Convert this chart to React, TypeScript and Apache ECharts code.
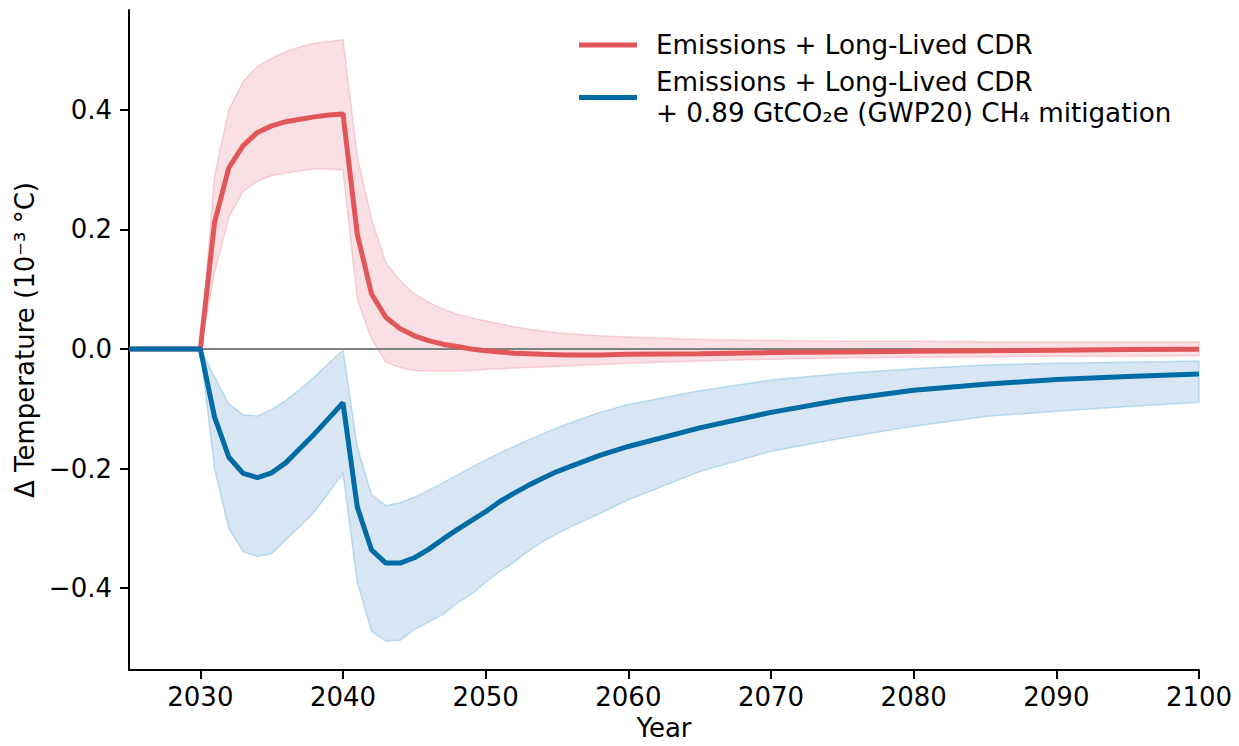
import React, { useEffect, useRef } from "react";
import * as echarts from "echarts";

const years = [2025, 2030, 2031, 2032, 2033, 2034, 2035, 2036, 2037, 2038, 2039, 2040, 2041, 2042, 2043, 2044, 2045, 2046, 2047, 2048, 2049, 2050, 2051, 2052, 2053, 2054, 2055, 2056, 2058, 2060, 2065, 2070, 2075, 2080, 2085, 2090, 2095, 2100];

const redMean = [0, 0, 0.212, 0.303, 0.34, 0.362, 0.373, 0.38, 0.384, 0.388, 0.391, 0.393, 0.192, 0.092, 0.053, 0.034, 0.022, 0.014, 0.008, 0.004, 0.0, -0.003, -0.005, -0.007, -0.008, -0.009, -0.0095, -0.01, -0.01, -0.009, -0.008, -0.006, -0.005, -0.004, -0.003, -0.002, -0.001, -0.0005];
const redLow = [0, 0, 0.128, 0.22, 0.264, 0.28, 0.29, 0.294, 0.298, 0.301, 0.301, 0.299, 0.083, 0.017, -0.022, -0.031, -0.036, -0.037, -0.037, -0.037, -0.036, -0.034, -0.033, -0.032, -0.031, -0.03, -0.029, -0.028, -0.026, -0.024, -0.02, -0.017, -0.015, -0.014, -0.013, -0.012, -0.012, -0.011];
const redHigh = [0, 0, 0.29, 0.4, 0.447, 0.472, 0.486, 0.497, 0.505, 0.511, 0.514, 0.517, 0.322, 0.217, 0.144, 0.114, 0.092, 0.078, 0.067, 0.058, 0.052, 0.047, 0.042, 0.037, 0.033, 0.03, 0.027, 0.025, 0.022, 0.02, 0.016, 0.014, 0.013, 0.013, 0.012, 0.012, 0.012, 0.012];

const blueMean = [0, 0, -0.114, -0.181, -0.208, -0.215, -0.207, -0.19, -0.166, -0.142, -0.116, -0.09, -0.264, -0.336, -0.358, -0.358, -0.349, -0.335, -0.318, -0.302, -0.287, -0.272, -0.255, -0.241, -0.228, -0.216, -0.205, -0.196, -0.178, -0.163, -0.132, -0.106, -0.085, -0.069, -0.059, -0.051, -0.046, -0.042];
const blueHigh = [0, 0, -0.047, -0.092, -0.11, -0.112, -0.101, -0.086, -0.067, -0.047, -0.024, -0.002, -0.164, -0.244, -0.262, -0.257, -0.248, -0.236, -0.224, -0.211, -0.198, -0.186, -0.174, -0.163, -0.152, -0.142, -0.132, -0.123, -0.106, -0.093, -0.07, -0.052, -0.041, -0.033, -0.027, -0.024, -0.022, -0.02];
const blueLow = [0, 0, -0.2, -0.3, -0.339, -0.347, -0.342, -0.319, -0.296, -0.272, -0.24, -0.208, -0.389, -0.472, -0.488, -0.487, -0.469, -0.456, -0.444, -0.425, -0.41, -0.39, -0.372, -0.356, -0.338, -0.322, -0.309, -0.297, -0.275, -0.252, -0.205, -0.171, -0.149, -0.129, -0.113, -0.104, -0.096, -0.089];

const xTicks = [2030, 2040, 2050, 2060, 2070, 2080, 2090, 2100];
const yTicks = [-0.4, -0.2, 0, 0.2, 0.4];

const redName = "Emissions + Long-Lived CDR";
const blueName = "Emissions + Long-Lived CDR\n+ 0.89 GtCO\u2082e (GWP20) CH\u2084 mitigation";
const yTitle = "\u0394 Temperature (10\u207B\u00B3 \u00B0C)";
const xTitle = "Year";

const FONT = "DejaVu Sans";

function band(high: number[], low: number[], fill: string, stroke: string) {
  return {
    type: "custom",
    silent: true,
    data: [[years[0], 0]],
    encode: { x: 0, y: 1 },
    renderItem: (params: any, api: any) => {
      if (params.dataIndex !== 0) return null;
      const pts: number[][] = [];
      for (let i = 0; i < years.length; i++) pts.push(api.coord([years[i], high[i]]));
      for (let i = years.length - 1; i >= 0; i--) pts.push(api.coord([years[i], low[i]]));
      return {
        type: "polygon",
        shape: { points: pts },
        style: { fill, stroke, lineWidth: 1.5 },
      };
    },
    z: 1,
  };
}

export default function App() {
  const ref = useRef<HTMLDivElement>(null);
  useEffect(() => {
    if (!ref.current) return;
    const chart = echarts.init(ref.current, null, { renderer: "svg" });
    const fmtY = (v: number) => {
      const s = Math.abs(v).toFixed(1);
      return v < -1e-9 ? "\u2212" + s : s;
    };
    chart.setOption({
      animation: false,
      backgroundColor: "#ffffff",
      textStyle: { fontFamily: FONT },
      grid: { left: 129, right: 40, top: 10, bottom: 74, containLabel: false },
      legend: {
        data: [redName, blueName],
        orient: "vertical",
        left: 579,
        top: 29.5,
        padding: 0,
        itemGap: 6,
        itemWidth: 58,
        itemHeight: 5,
        icon: "rect",
        selectedMode: false,
        textStyle: {
          fontFamily: FONT,
          fontSize: 26.2,
          lineHeight: 31,
          color: "#000",
          padding: [0, 0, 0, 14],
        },
      },
      xAxis: {
        type: "value",
        min: 2025,
        max: 2100,
        name: xTitle,
        nameLocation: "middle",
        nameGap: 45,
        nameTextStyle: { fontFamily: FONT, fontSize: 26, color: "#000" },
        axisLine: { show: true, onZero: false, lineStyle: { color: "#000", width: 2 } },
        axisTick: { show: true, length: 9, lineStyle: { color: "#000", width: 2 }, customValues: xTicks },
        axisLabel: {
          customValues: xTicks,
          fontFamily: FONT,
          fontSize: 26,
          color: "#000",
          margin: 14,
          formatter: (v: number) => String(v),
        },
        splitLine: { show: false },
      },
      yAxis: {
        type: "value",
        min: -0.5367,
        max: 0.5667,
        name: yTitle,
        nameLocation: "middle",
        nameRotate: 90,
        nameGap: 84,
        nameTextStyle: { fontFamily: FONT, fontSize: 26, color: "#000" },
        axisLine: { show: true, onZero: false, lineStyle: { color: "#000", width: 2 } },
        axisTick: { show: true, length: 9, lineStyle: { color: "#000", width: 2 }, customValues: yTicks },
        axisLabel: {
          customValues: yTicks,
          fontFamily: FONT,
          fontSize: 26,
          color: "#000",
          margin: 17,
          formatter: fmtY,
        },
        splitLine: { show: false },
      },
      series: [
        band(redHigh, redLow, "rgba(240,160,172,0.32)", "rgba(240,160,170,0.45)"),
        band(blueHigh, blueLow, "rgba(150,190,220,0.38)", "rgba(140,195,225,0.55)"),
        {
          type: "line",
          name: "zero",
          data: [[2025, 0], [2100, 0]],
          symbol: "none",
          silent: true,
          lineStyle: { color: "#808080", width: 2 },
          z: 2,
        },
        {
          type: "line",
          name: redName,
          data: years.map((y, i) => [y, redMean[i]]),
          symbol: "none",
          color: "#e15759",
          lineStyle: { color: "#e15759", width: 5 },
          z: 3,
        },
        {
          type: "line",
          name: blueName,
          data: years.map((y, i) => [y, blueMean[i]]),
          symbol: "none",
          color: "#006ba4",
          lineStyle: { color: "#006ba4", width: 5 },
          z: 4,
        },
      ],
    });
    return () => chart.dispose();
  }, []);
  return (
    <div
      ref={ref}
      style={{ position: "fixed", left: 0, top: 0, width: 1239, height: 746, background: "#fff" }}
    />
  );
}
